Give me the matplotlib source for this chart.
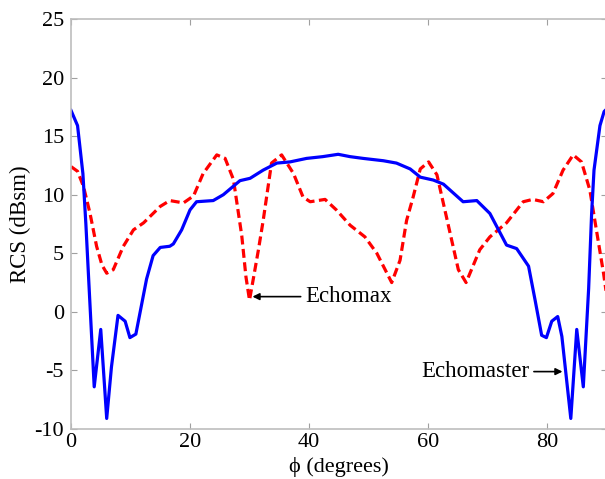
import matplotlib
matplotlib.use("Agg")
import matplotlib.pyplot as plt

# ---- data ----
echomaster_phi = [0, 1.1, 2.0, 2.5, 3.0, 3.9, 5.0, 6.0, 6.8, 7.9, 9.1, 9.9, 10.9,
                  12.7, 13.8, 15.0, 16.6, 17.2, 18.6, 20.0, 21.1, 23.9, 25.6, 28.4,
                  30.1, 32.3, 34.6, 36.8, 39.6, 42.3, 44.9, 46.9, 49.1, 52.5, 54.7,
                  57.0, 58.7, 60.9, 62.6, 65.9, 68.2, 70.4, 73.2, 74.9, 76.9, 78.0,
                  79.1, 79.9, 80.8, 81.8, 82.5, 84.0, 85.0, 86.1, 87.0, 87.5, 87.9,
                  88.9, 89.6, 90.0]
echomaster_rcs = [17.2, 15.9, 11.8, 7.5, 2.5, -6.4, -1.5, -9.1, -4.7, -0.3, -0.8, -2.2, -1.9,
                  2.8, 4.8, 5.5, 5.6, 5.8, 7.0, 8.7, 9.4, 9.5, 10.0, 11.2,
                  11.4, 12.1, 12.7, 12.8, 13.1, 13.25, 13.45, 13.25, 13.1, 12.9, 12.7,
                  12.2, 11.5, 11.25, 10.9, 9.4, 9.5, 8.4, 5.7, 5.4, 3.9, 1.0,
                  -2.0, -2.2, -0.8, -0.4, -2.1, -9.1, -1.5, -6.4, 2.0, 8.4, 12.1,
                  15.9, 17.1, 17.3]

echomax_phi = [0, 1.1, 2.1, 3.2, 4.3, 5.2, 6.0, 7.1, 8.8, 10.5, 12.2, 13.8, 15.0,
               16.6, 18.9, 20.6, 22.2, 24.5, 25.9, 27.3, 28.7, 29.4, 30.0, 30.6,
               31.5, 32.3, 33.7, 35.4, 37.4, 39.0, 40.2, 42.7, 44.6, 46.9, 49.4,
               51.4, 52.5, 53.9, 55.3, 56.4, 57.5, 58.7, 60.1, 61.5, 63.1, 65.1,
               66.4, 68.7, 70.4, 73.2, 76.0, 77.6, 79.4, 81.0, 82.7, 84.4, 85.8,
               87.2, 88.3, 89.5, 90.0]
echomax_rcs = [12.4, 12.0, 10.7, 8.4, 5.6, 4.0, 3.3, 3.6, 5.6, 7.0, 7.6, 8.4, 9.0,
               9.5, 9.3, 9.9, 11.8, 13.4, 13.1, 11.3, 6.5, 3.0, 1.0, 2.7,
               5.3, 7.8, 12.7, 13.4, 11.8, 9.8, 9.4, 9.6, 8.7, 7.4, 6.4,
               5.0, 3.9, 2.5, 4.4, 7.8, 9.8, 12.2, 12.8, 11.7, 8.1, 3.6,
               2.5, 5.3, 6.4, 7.6, 9.4, 9.6, 9.4, 10.1, 12.1, 13.4, 12.8,
               10.4, 7.0, 3.3, 1.5]

x_ticks = [0, 20, 40, 60, 80]
y_ticks = [-10, -5, 0, 5, 10, 15, 20, 25]

# ---- style ----
plt.rcParams['font.family'] = ['Liberation Serif', 'DejaVu Serif']
plt.rcParams['axes.unicode_minus'] = False
FS = 16.5
TFS = 16

W, H = 605, 479
fig = plt.figure(figsize=(W / 100, H / 100), dpi=100)
ax = fig.add_axes([71 / W, 1 - 429 / H, (606.5 - 71) / W, (429 - 19) / H])

ax.plot(echomax_phi, echomax_rcs, color=(1, 0, 0), lw=2.3,
        linestyle=(0, (2.8, 1.4)))
ax.plot(echomaster_phi, echomaster_rcs, color=(0, 0, 1), lw=2.3)

ax.set_xlim(0, 90)
ax.set_ylim(-10, 25)
ax.set_xticks(x_ticks)
ax.set_yticks(y_ticks)
ax.tick_params(direction='in', length=4, width=0.8, color='#a0a0a0',
               labelsize=TFS, top=True, right=True, pad=5)
ax.tick_params(axis='x', pad=3)
for s in ax.spines.values():
    s.set_color('#bdbdbd')
    s.set_linewidth(1.2)

ax.set_ylabel('RCS (dBsm)', fontsize=FS)
ax.yaxis.set_label_coords(-0.075, 0.5)
ax.set_xlabel('ϕ (degrees)', fontsize=TFS)
ax.xaxis.set_label_coords(0.5, -0.069)

arrow = dict(arrowstyle='-|>', color='black', lw=1.2, mutation_scale=10,
             shrinkA=1, shrinkB=0)
ax.annotate('Echomax', xy=(30.5, 1.3), xytext=(39.3, 1.3), ha='left',
            va='center', fontsize=FS, arrowprops=arrow)
ax.annotate('Echomaster', xy=(82.6, -5.1), xytext=(77.1, -5.1), ha='right',
            va='center', fontsize=FS, arrowprops=arrow)

fig.savefig('out.png', dpi=100)
